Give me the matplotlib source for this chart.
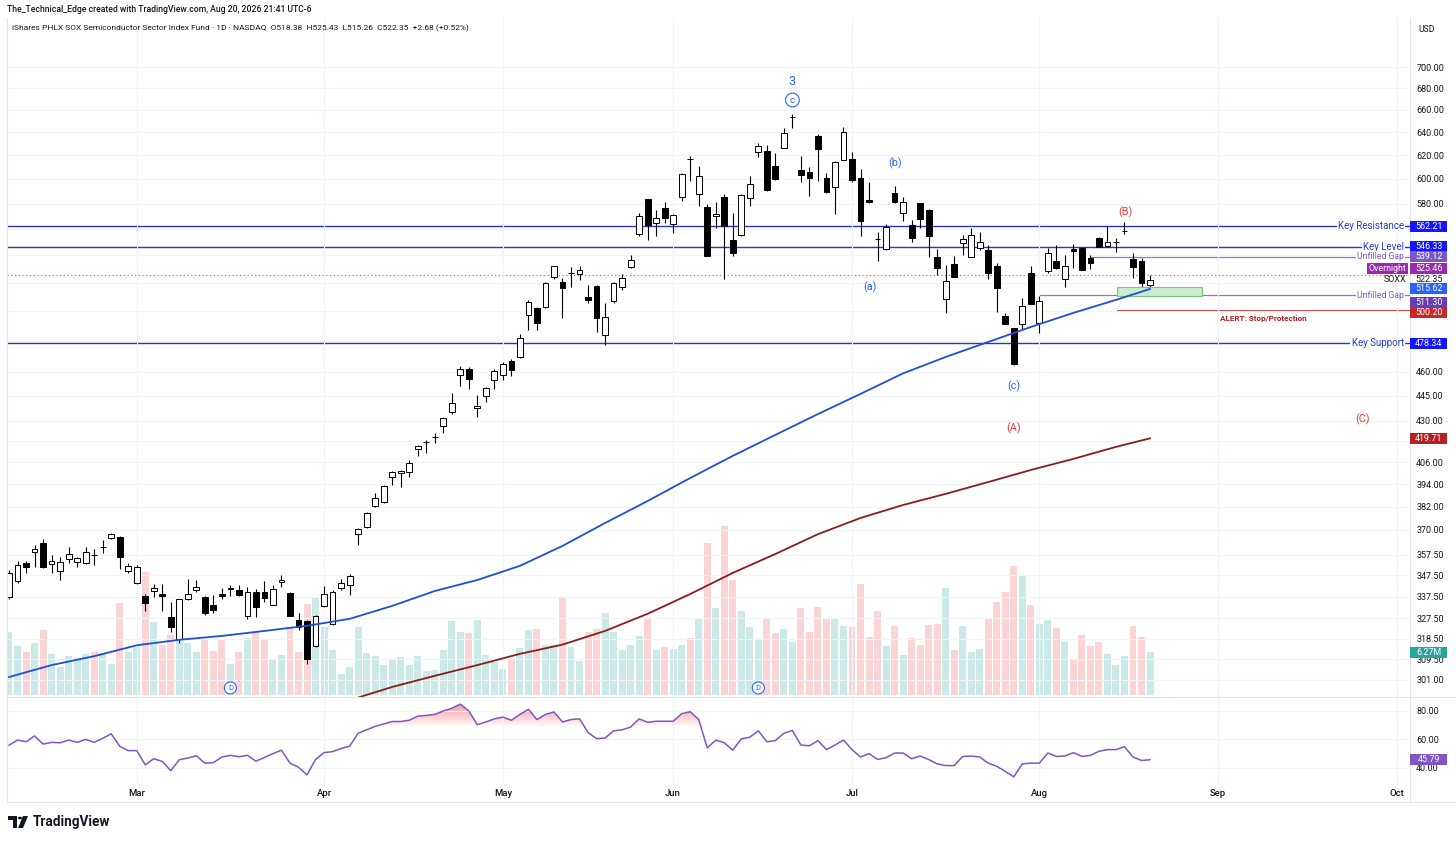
import numpy as np
import pandas as pd
import matplotlib
matplotlib.use("Agg")
import matplotlib.pyplot as plt
from matplotlib.patches import Rectangle, Polygon, Circle
from matplotlib.lines import Line2D
from matplotlib.ticker import FixedLocator, NullLocator

plt.rcParams['font.family'] = ['Roboto', 'DejaVu Sans']

# ---- data ----
holidays = ['2026-02-16', '2026-04-03', '2026-05-25', '2026-06-19', '2026-07-03', '2026-09-07']
n_bars = 135

opens = [337.3, 344.9, 353.5, 358.9, 363.4, 353.0, 349.6, 355.5, 354.0, 353.5,
         357.6, 361.2, 366.0, 366.4, 349.6, 343.9, 337.8, 340.1, 338.7, 328.2,
         318.4, 336.4, 340.6, 337.3, 333.7, 338.7, 341.1, 340.4, 328.6, 339.7,
         339.7, 333.7, 344.4, 339.2, 326.8, 326.4, 315.3, 333.2, 325.0, 341.6,
         343.0, 367.9, 371.5, 382.4, 384.5, 398.0, 400.2, 400.7, 413.6, 417.4,
         420.3, 426.9, 435.2, 458.0, 461.8, 437.6, 444.9, 455.0, 457.8, 466.7,
         469.5, 497.3, 502.4, 503.1, 524.0, 520.4, 527.0, 526.4, 510.2, 517.7,
         484.0, 507.0, 517.2, 531.3, 556.0, 583.7, 564.3, 576.3, 563.5, 585.0,
         617.0, 587.7, 577.2, 570.1, 585.2, 551.6, 555.4, 584.4, 622.7, 623.5,
         610.8, 626.1, 653.0, 607.4, 605.8, 636.5, 600.8, 593.4, 615.8, 616.7,
         600.8, 582.8, 552.6, 544.8, 588.5, 572.5, 563.1, 580.4, 574.9, 538.8,
         508.6, 533.7, 549.3, 538.8, 545.6, 544.1, 532.2, 496.8, 488.6, 491.4,
         527.1, 492.0, 528.6, 535.9, 522.8, 544.8, 545.6, 538.1, 553.1, 547.1,
         549.8, 558.5, 537.4, 535.9, 518.38]
highs = [350.1, 354.5, 354.5, 362.4, 365.4, 357.4, 356.5, 361.4, 356.5, 361.4,
         360.4, 364.9, 368.4, 366.9, 353.5, 352.3, 338.7, 343.4, 343.4, 335.0,
         336.6, 345.8, 345.3, 337.8, 338.3, 341.6, 343.0, 343.0, 342.0, 341.1,
         344.9, 343.0, 347.7, 339.5, 330.0, 326.6, 329.1, 342.5, 340.6, 345.8,
         348.2, 371.0, 379.2, 389.3, 393.6, 401.3, 401.8, 407.4, 416.0, 418.8,
         422.8, 432.3, 446.8, 463.7, 463.1, 445.6, 450.5, 461.5, 466.0, 468.3,
         484.7, 507.6, 502.9, 520.4, 532.4, 523.7, 531.2, 532.0, 518.4, 518.4,
         505.7, 520.4, 526.1, 540.6, 572.3, 584.0, 574.9, 581.5, 571.6, 605.2,
         619.2, 610.8, 579.6, 581.2, 587.7, 572.5, 587.3, 602.4, 630.4, 628.7,
         621.8, 643.6, 656.1, 619.2, 609.9, 638.3, 604.9, 615.0, 644.5, 622.7,
         608.3, 597.5, 557.7, 563.9, 594.2, 585.2, 567.0, 580.6, 575.7, 544.8,
         532.9, 539.6, 555.4, 560.8, 557.7, 547.8, 534.4, 498.9, 488.8, 509.3,
         532.2, 510.7, 545.6, 547.8, 540.3, 548.6, 546.3, 540.3, 553.9, 562.3,
         553.1, 565.4, 541.8, 538.1, 525.43]
lows = [336.4, 343.9, 348.7, 351.6, 351.0, 348.7, 345.3, 353.5, 351.6, 353.0,
        352.5, 358.4, 365.4, 350.6, 348.7, 343.6, 330.9, 337.3, 330.9, 321.5,
        316.6, 336.0, 339.7, 329.1, 330.0, 336.4, 337.8, 338.0, 327.3, 328.2,
        335.0, 333.5, 342.0, 328.4, 322.4, 307.6, 314.9, 332.7, 324.6, 340.6,
        338.3, 362.4, 371.0, 381.9, 384.0, 393.6, 392.5, 398.0, 409.7, 411.3,
        417.1, 422.8, 434.0, 451.1, 449.3, 432.3, 441.5, 449.5, 454.9, 457.5,
        469.0, 487.3, 487.4, 502.4, 522.7, 495.2, 516.8, 522.0, 505.7, 485.7,
        477.6, 505.7, 514.9, 530.5, 554.3, 551.7, 554.3, 564.5, 557.3, 581.7,
        598.0, 578.0, 539.3, 560.8, 522.8, 539.6, 555.0, 578.0, 618.4, 590.5,
        599.5, 625.8, 643.6, 597.5, 586.1, 598.3, 588.5, 571.7, 615.5, 597.5,
        554.7, 580.4, 535.9, 544.1, 580.4, 566.2, 550.1, 560.8, 538.8, 525.7,
        498.9, 524.0, 540.3, 538.5, 544.1, 522.8, 499.5, 491.0, 464.4, 488.0,
        505.1, 485.3, 527.1, 530.0, 517.0, 530.7, 529.0, 530.0, 546.0, 546.3,
        542.6, 556.2, 523.5, 514.9, 515.26]
closes = [348.7, 352.5, 351.6, 360.4, 351.6, 354.5, 354.0, 357.9, 356.0, 358.9,
          357.2, 361.6, 367.9, 356.5, 352.1, 351.6, 334.6, 341.6, 337.8, 323.7,
          336.4, 338.7, 342.0, 330.0, 331.4, 337.8, 341.3, 338.3, 339.7, 332.7,
          336.9, 341.1, 345.3, 328.6, 323.7, 309.7, 328.6, 338.7, 339.7, 343.9,
          347.2, 370.5, 378.7, 386.6, 393.1, 400.7, 401.3, 405.7, 415.3, 417.8,
          420.7, 431.7, 440.7, 461.8, 455.5, 438.9, 449.9, 460.5, 465.1, 461.3,
          481.9, 506.1, 491.8, 519.7, 531.9, 516.2, 527.3, 529.3, 507.6, 495.2,
          496.1, 519.7, 523.7, 536.5, 570.0, 563.0, 568.8, 568.9, 571.0, 604.4,
          616.4, 602.4, 539.6, 571.7, 562.3, 541.8, 586.9, 595.8, 627.8, 590.9,
          599.9, 639.2, 653.4, 603.3, 600.8, 625.2, 589.3, 614.2, 640.1, 599.1,
          566.2, 581.2, 552.1, 561.6, 581.2, 581.2, 553.1, 567.8, 554.7, 530.7,
          521.3, 524.2, 552.4, 555.4, 550.1, 527.1, 516.3, 491.4, 465.0, 503.7,
          505.3, 507.2, 541.8, 530.7, 532.2, 543.3, 529.3, 534.4, 546.3, 550.1,
          550.3, 558.8, 531.5, 519.67, 522.35]
volume_m = [9.19, 7.14, 6.27, 7.58, 9.48, 5.98, 4.08, 5.69, 5.39, 5.98,
            6.27, 6.12, 4.52, 13.41, 6.27, 7.00, 17.93, 10.64, 7.29, 8.75,
            8.02, 7.58, 6.27, 8.02, 6.42, 8.02, 4.52, 6.27, 8.31, 9.19,
            8.16, 5.25, 5.83, 9.91, 6.27, 13.27, 14.14, 9.91, 6.56, 3.06,
            4.08, 9.91, 6.12, 5.69, 4.37, 5.25, 5.54, 4.37, 5.69, 3.50,
            3.65, 6.56, 10.79, 9.19, 9.04, 10.94, 5.83, 4.81, 3.79, 5.10,
            6.85, 9.48, 9.62, 7.29, 7.29, 14.29, 7.00, 4.96, 9.19, 9.62,
            11.96, 9.19, 6.56, 7.29, 8.60, 11.23, 6.56, 7.00, 6.71, 7.29,
            8.31, 11.23, 22.16, 12.68, 24.64, 16.77, 12.25, 9.91, 8.16, 11.23,
            9.04, 9.62, 7.73, 12.68, 9.19, 12.83, 11.08, 11.08, 10.06, 9.91,
            16.18, 8.46, 12.25, 7.14, 10.06, 5.83, 8.31, 7.29, 10.21, 10.35,
            15.60, 6.56, 10.06, 6.27, 6.71, 11.08, 13.56, 15.02, 18.81, 17.50,
            13.12, 10.35, 10.94, 9.77, 7.73, 5.25, 8.75, 7.14, 7.73, 5.98,
            4.37, 5.69, 10.06, 8.46, 6.27]
rsi = [56.0, 59.6, 58.4, 62.5, 56.8, 58.0, 57.7, 59.6, 58.0, 60.1,
       58.0, 60.8, 64.0, 55.3, 52.2, 52.2, 42.2, 46.5, 44.6, 38.1,
       45.8, 47.0, 48.6, 43.4, 43.8, 47.7, 48.9, 47.9, 48.9, 44.8,
       47.4, 50.1, 52.5, 43.4, 40.5, 35.2, 46.0, 50.8, 51.5, 53.7,
       55.3, 64.4, 66.8, 69.2, 70.9, 72.6, 72.6, 73.5, 76.4, 76.9,
       77.6, 80.0, 81.9, 84.8, 80.0, 70.4, 72.3, 74.5, 75.7, 73.5,
       77.6, 81.2, 74.0, 77.6, 79.3, 72.3, 74.0, 74.5, 64.9, 60.6,
       61.0, 66.1, 66.8, 68.7, 74.5, 72.1, 72.8, 72.8, 72.8, 78.1,
       79.5, 74.0, 54.1, 59.6, 57.7, 52.5, 60.4, 61.6, 66.1, 58.4,
       59.2, 64.4, 66.3, 56.1, 55.6, 59.2, 52.9, 56.1, 59.6, 52.9,
       47.7, 50.1, 46.0, 47.2, 50.5, 50.5, 46.5, 48.4, 46.0, 42.9,
       41.7, 41.7, 48.1, 48.4, 47.7, 43.4, 41.2, 37.6, 33.8, 42.9,
       43.4, 43.4, 50.5, 48.1, 48.4, 50.8, 48.1, 48.9, 51.7, 52.9,
       52.9, 54.9, 47.7, 45.3, 45.79]

ma50_idx = [0, 5, 10, 15, 20, 25, 30, 35, 40, 45, 50, 55, 60, 65, 70, 75, 80,
            85, 90, 95, 100, 105, 110, 115, 120, 125, 130, 134]
ma50_val = [302.1, 307.1, 310.9, 315.6, 318.0, 319.7, 321.9, 324.2, 327.3, 333.2,
            340.1, 345.3, 352.1, 361.9, 373.5, 385.0, 397.4, 409.7, 421.7, 434.0,
            446.2, 459.0, 469.5, 479.3, 489.3, 498.9, 507.9, 515.62]
ma200_idx = [40, 45, 50, 55, 60, 65, 70, 75, 80, 85, 90, 95, 100, 105, 110, 115,
             120, 125, 130, 134]
ma200_val = [292.6, 298.0, 302.6, 307.1, 311.9, 315.9, 321.9, 329.6, 338.7, 348.7,
             357.9, 367.8, 376.1, 382.9, 388.8, 395.2, 401.8, 408.0, 414.8, 419.71]

key_resistance = 562.21
key_level = 546.33
key_support = 478.34
gap_upper, gap_upper_start = 539.12, 127
gap_lower, gap_lower_start = 511.30, 121
overnight = 525.46
alert_stop, alert_start = 500.20, 130.1
zone_x0, zone_x1, zone_lo, zone_hi = 130.1, 140.1, 510.8, 517.0

price_ticks = [700, 680, 660, 640, 620, 600, 580, 560, 540, 520, 500, 480, 460,
               445, 430, 418, 406, 394, 382, 370, 357.5, 347.5, 337.5, 327.5,
               318.5, 309.5, 301]
hidden_ticks = [560, 540, 520, 500, 480, 418]

# ---- layout ----
W, H = 1456, 842
fig = plt.figure(figsize=(W / 100, H / 100), dpi=100)
fig.patch.set_facecolor('white')


def fx(px):
    return px / W


def fy(py):
    return 1 - py / H


L, R = 7, 1410
TOP, MID, BOT = 18, 697, 785
GRID = '#f0f3fa'
TXT = '#131722'

ax_vol = fig.add_axes([fx(L), fy(MID), fx(R) - fx(L), fy(TOP) - fy(MID)])
ax = fig.add_axes([fx(L), fy(MID), fx(R) - fx(L), fy(TOP) - fy(MID)])
ax.patch.set_visible(False)
ax_rsi = fig.add_axes([fx(L), fy(BOT), fx(R) - fx(L), fy(MID) - fy(BOT)])

xlim = (-0.235, 164.53)
dates = pd.bdate_range('2026-02-06', '2026-10-30', freq='C', holidays=holidays)
month_pos = [i for i in range(1, len(dates)) if dates[i].month != dates[i - 1].month]
month_lab = [dates[i].strftime('%b') for i in month_pos]
idx = np.arange(n_bars)

o = np.array(opens); h = np.array(highs); lo = np.array(lows); c = np.array(closes)
up = c >= o

# volume
vol_colors = np.where(up, '#26a69a', '#ef5350')
ax_vol.bar(idx, volume_m, width=0.82, color=vol_colors, alpha=0.24, lw=0)
ax_vol.set_xlim(*xlim)
ax_vol.set_ylim(-0.29, 98.7)
ax_vol.axis('off')

# candles
ax.vlines(idx, lo, h, color='black', lw=0.8, zorder=2)
body_lo = np.minimum(o, c)
body_h = np.maximum(np.abs(c - o), 0.25)
ax.bar(idx, body_h, bottom=body_lo, width=0.68,
       color=np.where(up, 'white', 'black'), edgecolor='black', lw=0.7, zorder=3)

# moving averages
ax.plot(ma50_idx, ma50_val, color='#1f4fd8', lw=1.3, zorder=4)
ax.plot(ma200_idx, ma200_val, color='#8c1c1c', lw=1.3, zorder=4)

# levels
for lv in (key_resistance, key_level, key_support):
    ax.hlines(lv, xlim[0], xlim[1], color='#2b33c0', lw=1.0, zorder=1.5)
ax.hlines(gap_upper, gap_upper_start, xlim[1], color='#9575cd', lw=0.9, zorder=1.5)
ax.hlines(gap_lower, gap_lower_start, xlim[1], color='#9575cd', lw=0.9, zorder=1.5)
ax.hlines(alert_stop, alert_start, xlim[1], color='#c21f1f', lw=1.2, zorder=1.5)
ax.axhline(overnight, color='#e0608e', lw=0.9, ls=(0, (1, 2)), zorder=1.5)
ax.add_patch(Rectangle((zone_x0, zone_lo), zone_x1 - zone_x0, zone_hi - zone_lo,
                       fc='#cdebcf', ec='#7cc47f', lw=0.8, zorder=2.5))

ax.set_yscale('log')
ax.set_xlim(*xlim)
ax.set_ylim(293.9, 748.9)
ax.yaxis.set_major_locator(FixedLocator(price_ticks))
ax.yaxis.set_minor_locator(NullLocator())
ax.set_yticklabels(['' if t in hidden_ticks else f'{t:.2f}' for t in price_ticks])
ax.yaxis.tick_right()
ax.set_xticks(month_pos)
ax.tick_params(axis='x', length=0, labelbottom=False)
ax.tick_params(axis='y', which='both', length=0, pad=4.5, labelsize=6.5, labelcolor=TXT)
ax.grid(True, color=GRID, lw=0.8, zorder=0)
for s in ax.spines.values():
    s.set_visible(False)

# wave labels
blue = '#2962ff'
red = '#e53935'
ax.text(92, 686.6, '3', color=blue, fontsize=9, ha='center', va='center')
ax.text(92, 668.9, 'c', color=blue, fontsize=6.8, ha='center', va='center',
        bbox=dict(boxstyle='circle,pad=0.25', fc='white', ec=blue, lw=0.8))
ax.text(104.05, 613.3, '(b)', color=blue, fontsize=7.8, ha='center', va='center')
ax.text(101.1, 517.0, '(a)', color=blue, fontsize=7.8, ha='center', va='center')
ax.text(118.0, 451.1, '(c)', color=blue, fontsize=7.8, ha='center', va='center')
ax.text(131.06, 573.3, '(B)', color=red, fontsize=7.8, ha='center', va='center')
ax.text(118.0, 425.8, '(A)', color=red, fontsize=7.8, ha='center', va='center')
ax.text(159.0, 431.1, '(C)', color=red, fontsize=7.8, ha='center', va='center')
ax.text(147.3, 495.2, 'ALERT: Stop/Protection', color='#b71c1c', fontsize=5.9,
        fontweight='bold', ha='center', va='center')
for di in (26, 88):
    ax.text(di, 297.6, 'D', color=blue, fontsize=5.5, ha='center', va='center', zorder=5,
            bbox=dict(boxstyle='circle,pad=0.4', fc='white', ec=blue, lw=0.8))

# RSI
r = np.array(rsi)
ax_rsi.plot(idx, r, color='#7e57c2', lw=1.1, zorder=3)
for lvl in np.arange(70, 86, 2):
    ax_rsi.fill_between(idx, lvl, r, where=r > lvl, interpolate=True,
                        color='#f23645', alpha=0.07, lw=0)
ax_rsi.set_xlim(*xlim)
ax_rsi.set_ylim(28.07, 89.82)
ax_rsi.set_yticks([40, 60, 80])
ax_rsi.set_yticklabels(['40.00', '60.00', '80.00'])
ax_rsi.yaxis.tick_right()
ax_rsi.set_xticks(month_pos)
ax_rsi.set_xticklabels(month_lab, fontweight='medium')
ax_rsi.tick_params(axis='y', length=0, pad=4.5, labelsize=6.5, labelcolor=TXT)
ax_rsi.tick_params(axis='x', length=0, pad=3.0, labelsize=6.8, labelcolor=TXT)
ax_rsi.grid(True, color=GRID, lw=0.8, zorder=0)
for s in ax_rsi.spines.values():
    s.set_visible(False)

# frame
fcol = '#e0e3eb'
for (x0, y0, x1, y1) in [(L, MID, W, MID), (R, TOP, R, 802), (L, 802, W, 802),
                         (L, TOP, L, 802)]:
    fig.add_artist(Line2D([fx(x0), fx(x1)], [fy(y0), fy(y1)], color=fcol, lw=0.8))


# right-side tags
def ypix(axis, val):
    return axis.transData.transform((0, val))[1]


def tag(ypx, text, fc, tc='white', x0=1410, x1=1447):
    yf = ypx / H
    fig.add_artist(Rectangle((fx(x0), yf - 5.5 / H), (x1 - x0) / W, 11 / H,
                             transform=fig.transFigure, fc=fc, ec='none', zorder=5))
    fig.text(fx((x0 + x1) / 2), yf, text, color=tc, fontsize=6.4, ha='center',
             va='center', zorder=6)


def side_label(ypx, text, color, size=7.0):
    fig.text(fx(1404), ypx / H, text, color=color, fontsize=size, ha='right',
             va='center', zorder=6,
             bbox=dict(fc='white', ec='none', pad=1.0))


kb = '#1414ff'
for lv, name in ((key_resistance, 'Key Resistance'), (key_level, 'Key Level'),
                 (key_support, 'Key Support')):
    side_label(ypix(ax, lv), name, '#2439d6')
    tag(ypix(ax, lv), f'{lv:.2f}', kb)
side_label(ypix(ax, gap_upper), 'Unfilled Gap', '#7e57c2', 6.2)
tag(ypix(ax, gap_upper), f'{gap_upper:.2f}', '#7e57c2')
side_label(ypix(ax, gap_lower), 'Unfilled Gap', '#7e57c2', 6.2)
tag(ypix(ax, gap_lower) - 7, f'{gap_lower:.2f}', '#673ab7')
tag(ypix(ax, overnight) + 7, f'{overnight:.2f}', '#9c27b0')
tag(ypix(ax, overnight) + 7, 'Overnight', '#9c27b0', x0=1367, x1=1408)
fig.text(fx(1406), ypix(ax, closes[-1]) / H, 'SOXX', color=TXT, fontsize=6.4,
         ha='right', va='center', zorder=6)
fig.text(fx(1428.5), ypix(ax, closes[-1]) / H, f'{closes[-1]:.2f}', color=TXT,
         fontsize=6.4, ha='center', va='center', zorder=6)
tag(ypix(ax, ma50_val[-1]), f'{ma50_val[-1]:.2f}', '#2962ff')
tag(ypix(ax, alert_stop) - 2, f'{alert_stop:.2f}', '#c62828')
tag(ypix(ax, ma200_val[-1]), f'{ma200_val[-1]:.2f}', '#b22222')
tag(ypix(ax_vol, volume_m[-1]), f'{volume_m[-1]:.2f}M', '#26a69a')
tag(ypix(ax_rsi, rsi[-1]), f'{rsi[-1]:.2f}', '#7e57c2')

# header
fig.text(fx(7), fy(10), 'The_Technical_Edge created with TradingView.com, Aug 20, 2026 21:41 UTC-6',
         fontsize=6.2, color=TXT, ha='left', va='center', fontweight='medium')
fig.text(fx(12), fy(28), 'iShares PHLX SOX Semiconductor Sector Index Fund · 1D · NASDAQ  '
         'O518.38  H525.43  L515.26  C522.35  +2.68 (+0.52%)',
         fontsize=6.0, color=TXT, ha='left', va='center')
fig.text(fx(1427), fy(29), 'USD', fontsize=6.2, color=TXT, ha='center', va='center')

# TradingView logo
fig.add_artist(Polygon([(fx(8), fy(816)), (fx(17), fy(816)), (fx(17), fy(828)),
                        (fx(13), fy(828)), (fx(13), fy(820)), (fx(8), fy(820))],
                       closed=True, transform=fig.transFigure, fc=TXT, ec='none'))
fig.add_artist(Circle((fx(20), fy(818)), 2.2 / W, transform=fig.transFigure, fc=TXT, ec='none'))
fig.add_artist(Polygon([(fx(23), fy(816)), (fx(28), fy(816)), (fx(23), fy(828)),
                        (fx(18), fy(828))], closed=True, transform=fig.transFigure,
                       fc=TXT, ec='none'))
fig.text(fx(33), fy(822), 'TradingView', fontsize=9.8, fontweight='bold', color=TXT,
         ha='left', va='center')

fig.savefig('out.png', dpi=100, facecolor='white')
